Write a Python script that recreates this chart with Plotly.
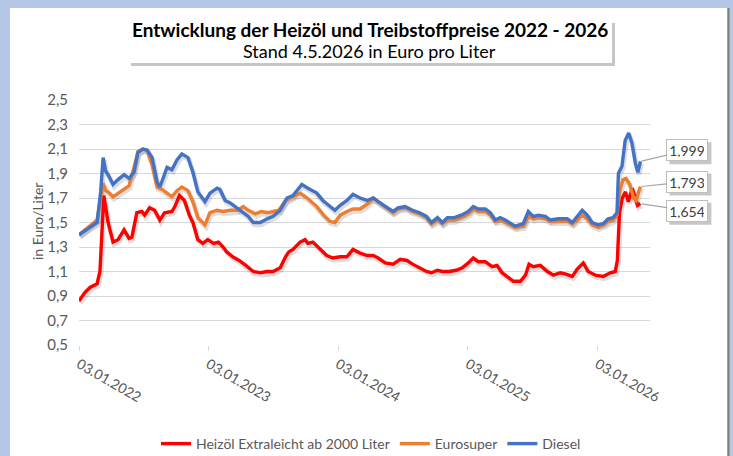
import pandas as pd
import plotly.graph_objects as go

# ---------------- data ----------------
diesel_dates = ["2022-01-03","2022-01-20","2022-02-03","2022-02-23","2022-03-05","2022-03-12","2022-03-19","2022-03-26",
    "2022-04-09","2022-04-23","2022-05-10","2022-05-24","2022-06-07","2022-06-18","2022-07-02","2022-07-14","2022-07-28",
    "2022-08-11","2022-08-19","2022-09-08","2022-09-22","2022-10-06","2022-10-20","2022-11-06","2022-11-20","2022-12-04",
    "2022-12-24","2023-01-07","2023-01-27","2023-02-04","2023-02-19","2023-03-05","2023-03-25","2023-04-11","2023-04-25",
    "2023-05-09","2023-05-29","2023-06-17","2023-07-04","2023-07-24","2023-08-12","2023-08-29","2023-09-23","2023-10-10",
    "2023-11-04","2023-11-21","2023-12-11","2023-12-25","2024-01-09","2024-01-28","2024-02-14","2024-03-05","2024-03-25",
    "2024-04-11","2024-04-25","2024-05-15","2024-06-06","2024-06-20","2024-07-10","2024-07-31","2024-08-20","2024-09-08",
    "2024-09-22","2024-10-09","2024-10-23","2024-11-06","2024-11-26","2024-12-15","2025-01-04","2025-01-18","2025-02-01",
    "2025-02-21","2025-03-07","2025-03-21","2025-04-04","2025-04-18","2025-05-16","2025-06-08","2025-06-22","2025-07-06",
    "2025-07-20","2025-08-09","2025-08-23","2025-09-15","2025-10-10","2025-10-24","2025-11-07","2025-11-21","2025-12-05",
    "2025-12-19","2026-01-05","2026-01-19","2026-02-02","2026-02-16","2026-02-27","2026-03-03","2026-03-13","2026-03-22",
    "2026-04-01","2026-04-10","2026-04-20","2026-04-27","2026-05-04"]
diesel = [1.40,1.43,1.46,1.50,1.75,2.03,1.92,1.89,
    1.81,1.85,1.89,1.86,1.91,2.07,2.10,2.09,2.03,
    1.83,1.79,1.95,1.93,2.01,2.06,2.03,1.91,1.75,
    1.67,1.74,1.78,1.77,1.68,1.66,1.62,1.58,1.55,
    1.50,1.50,1.53,1.55,1.60,1.70,1.72,1.81,1.78,
    1.74,1.68,1.63,1.60,1.64,1.68,1.73,1.70,1.68,
    1.70,1.67,1.63,1.59,1.62,1.63,1.60,1.58,1.55,
    1.50,1.54,1.50,1.54,1.54,1.56,1.59,1.63,1.61,
    1.61,1.58,1.52,1.54,1.52,1.47,1.49,1.59,1.55,
    1.56,1.55,1.52,1.53,1.53,1.50,1.55,1.60,1.56,
    1.50,1.48,1.49,1.53,1.54,1.58,1.90,1.96,2.17,
    2.23,2.15,1.98,1.91,1.999]

super_dates = ["2022-01-03","2022-01-20","2022-02-03","2022-02-23","2022-03-05","2022-03-12","2022-03-19","2022-03-26",
    "2022-04-09","2022-04-23","2022-05-10","2022-05-24","2022-06-07","2022-06-18","2022-07-02","2022-07-14","2022-07-28",
    "2022-08-11","2022-08-25","2022-09-22","2022-10-06","2022-10-20","2022-11-06","2022-11-20","2022-12-04","2022-12-24",
    "2023-01-07","2023-01-27","2023-02-13","2023-03-05","2023-03-25","2023-04-11","2023-04-25","2023-05-15","2023-06-01",
    "2023-06-20","2023-07-20","2023-08-08","2023-08-27","2023-09-18","2023-10-08","2023-11-04","2023-11-23","2023-12-11",
    "2023-12-25","2024-01-09","2024-01-28","2024-02-14","2024-03-05","2024-03-25","2024-04-11","2024-04-25","2024-05-15",
    "2024-06-06","2024-06-20","2024-07-10","2024-07-31","2024-08-20","2024-09-08","2024-09-22","2024-10-09","2024-10-23",
    "2024-11-06","2024-11-26","2024-12-15","2025-01-04","2025-01-18","2025-02-01","2025-02-21","2025-03-07","2025-03-21",
    "2025-04-04","2025-04-18","2025-05-16","2025-06-08","2025-06-22","2025-07-06","2025-07-20","2025-08-09","2025-08-23",
    "2025-09-15","2025-10-10","2025-10-24","2025-11-07","2025-11-21","2025-12-05","2025-12-19","2026-01-05","2026-01-19",
    "2026-02-02","2026-02-16","2026-02-27","2026-03-06","2026-03-16","2026-03-24","2026-04-04","2026-04-15","2026-04-22",
    "2026-04-29","2026-05-04"]
eurosuper = [1.40,1.44,1.47,1.52,1.70,1.82,1.76,1.75,
    1.71,1.74,1.77,1.80,1.95,2.08,2.10,2.09,1.97,
    1.79,1.77,1.71,1.76,1.79,1.76,1.67,1.54,1.48,
    1.58,1.60,1.59,1.60,1.60,1.63,1.60,1.57,1.59,
    1.58,1.60,1.68,1.71,1.74,1.70,1.63,1.56,1.51,
    1.50,1.56,1.59,1.61,1.61,1.65,1.70,1.67,1.62,
    1.58,1.61,1.62,1.59,1.57,1.54,1.49,1.52,1.49,
    1.52,1.52,1.54,1.57,1.61,1.59,1.59,1.56,1.51,
    1.52,1.50,1.46,1.47,1.55,1.53,1.54,1.53,1.51,
    1.51,1.51,1.49,1.52,1.56,1.53,1.48,1.46,1.48,
    1.51,1.52,1.56,1.75,1.85,1.86,1.81,1.70,1.68,
    1.75,1.793]

heizoel_dates = ["2022-01-03","2022-01-20","2022-02-03","2022-02-23","2022-03-03","2022-03-14","2022-03-26","2022-04-09",
    "2022-04-23","2022-05-10","2022-05-24","2022-06-01","2022-06-15","2022-06-29","2022-07-07","2022-07-21","2022-08-04",
    "2022-08-19","2022-09-01","2022-09-22","2022-09-30","2022-10-13","2022-10-27","2022-11-10","2022-11-20","2022-12-04",
    "2022-12-18","2023-01-01","2023-01-17","2023-01-31","2023-02-13","2023-02-23","2023-03-12","2023-03-30","2023-04-18",
    "2023-05-09","2023-05-29","2023-06-17","2023-07-04","2023-07-24","2023-08-08","2023-08-17","2023-08-29","2023-09-18",
    "2023-10-02","2023-10-10","2023-10-24","2023-11-13","2023-12-02","2023-12-19","2024-01-09","2024-01-28","2024-02-14",
    "2024-03-05","2024-03-25","2024-04-11","2024-04-25","2024-05-15","2024-06-06","2024-06-26","2024-07-15","2024-07-31",
    "2024-08-20","2024-09-08","2024-09-22","2024-10-09","2024-10-23","2024-11-11","2024-12-01","2024-12-18","2025-01-04",
    "2025-01-18","2025-02-01","2025-02-21","2025-03-12","2025-03-26","2025-04-09","2025-04-24","2025-05-11","2025-05-31",
    "2025-06-14","2025-06-24","2025-07-06","2025-07-26","2025-08-15","2025-09-01","2025-09-20","2025-10-04","2025-10-24",
    "2025-11-07","2025-11-24","2025-12-08","2025-12-28","2026-01-19","2026-02-08","2026-02-22","2026-02-28","2026-03-06",
    "2026-03-14","2026-03-23","2026-03-31","2026-04-11","2026-04-20","2026-04-26","2026-05-04"]
heizoel = [0.86,0.93,0.97,1.00,1.10,1.72,1.50,1.34,
    1.36,1.44,1.37,1.38,1.58,1.59,1.56,1.62,1.60,
    1.52,1.58,1.59,1.63,1.72,1.68,1.56,1.50,1.36,
    1.33,1.36,1.33,1.34,1.30,1.26,1.22,1.19,1.15,
    1.10,1.09,1.10,1.10,1.13,1.22,1.26,1.28,1.34,
    1.36,1.33,1.34,1.28,1.23,1.21,1.22,1.22,1.28,
    1.25,1.23,1.23,1.21,1.17,1.16,1.20,1.19,1.16,
    1.13,1.10,1.09,1.11,1.10,1.10,1.11,1.13,1.17,
    1.21,1.18,1.18,1.14,1.15,1.09,1.06,1.02,1.02,
    1.07,1.16,1.14,1.15,1.10,1.07,1.09,1.08,1.06,
    1.12,1.17,1.10,1.07,1.06,1.09,1.10,1.19,1.58,
    1.70,1.75,1.67,1.78,1.70,1.64,1.654]

tick_dates = ["2022-01-03", "2023-01-03", "2024-01-03", "2025-01-03", "2026-01-03"]
tick_labels = ["03.01.2022", "03.01.2023", "03.01.2024", "03.01.2025", "03.01.2026"]
y_ticks = [0.5, 0.7, 0.9, 1.1, 1.3, 1.5, 1.7, 1.9, 2.1, 2.3, 2.5]

series = [
    ("Heizöl Extraleicht ab 2000 Liter", heizoel_dates, heizoel, "#ff0000"),
    ("Eurosuper", super_dates, eurosuper, "#ed7d31"),
    ("Diesel", diesel_dates, diesel, "#4472c4"),
]

# ---------------- layout helpers ----------------
W, H = 733, 456
L, R, T, B = 79, 650, 100, 345
X_RANGE = ["2022-01-03", "2026-05-31"]
Y_RANGE = [0.5, 2.5]
def px_x(p):
    return (p - L) / (R - L)
def px_y(p):
    return (B - p) / (B - T)
def date_frac(d):
    a, b = pd.to_datetime(X_RANGE[0]), pd.to_datetime(X_RANGE[1])
    return (pd.to_datetime(d) - a) / (b - a)
def val_frac(v):
    return (v - Y_RANGE[0]) / (Y_RANGE[1] - Y_RANGE[0])

FONT = "Lato"
fig = go.Figure()

# soft drop shadows under the lines
for name, d, v, c in series:
    dd = pd.to_datetime(d) + pd.Timedelta(days=3)
    fig.add_trace(go.Scatter(x=dd, y=[val - 0.018 for val in v], mode="lines",
                             line=dict(color="rgba(0,0,0,0.13)", width=5),
                             showlegend=False, hoverinfo="skip"))
for name, d, v, c in series:
    fig.add_trace(go.Scatter(x=pd.to_datetime(d), y=v, mode="lines", name=name,
                             line=dict(color=c, width=3.4)))

shapes = [
    # white chart area
    dict(type="rect", xref="paper", yref="paper", layer="below",
         x0=px_x(10), x1=px_x(727), y0=px_y(8), y1=px_y(460),
         fillcolor="white", line=dict(width=0)),
    dict(type="line", xref="paper", yref="paper", layer="below",
         x0=px_x(728.5), x1=px_x(728.5), y0=px_y(8), y1=px_y(460),
         line=dict(color="#7f7f7f", width=2)),
    # title box shadow + box
    dict(type="rect", xref="paper", yref="paper", layer="below",
         x0=px_x(131), x1=px_x(615), y0=px_y(23), y1=px_y(66),
         fillcolor="rgba(0,0,0,0.22)", line=dict(width=0)),
    dict(type="rect", xref="paper", yref="paper", layer="below",
         x0=px_x(128), x1=px_x(612), y0=px_y(20), y1=px_y(63),
         fillcolor="white", line=dict(width=0)),
]

annotations = [
    dict(xref="paper", yref="paper", x=px_x(370), y=px_y(30), xanchor="center", yanchor="middle",
         showarrow=False, text="<b>Entwicklung der Heizöl und Treibstoffpreise 2022 - 2026</b>",
         font=dict(family=FONT, size=19, color="#000000")),
    dict(xref="paper", yref="paper", x=px_x(369), y=px_y(51), xanchor="center", yanchor="middle",
         showarrow=False, text="Stand 4.5.2026 in Euro pro Liter",
         font=dict(family=FONT, size=18, color="#000000")),
    dict(xref="paper", yref="paper", x=px_x(37), y=px_y(222), xanchor="center", yanchor="middle",
         showarrow=False, text="in Euro/Liter", textangle=-90,
         font=dict(family=FONT, size=14, color="#595959")),
]

# end-value labels (box centre offsets in px from the last point)
offsets = [(47, 7), (47, -5), (47, -11)]
BW, BH = 42, 22
for (name, d, v, c), (ax, ay) in zip(series, offsets):
    label = f"{v[-1]:.3f}".replace(".", ",")
    # shadow box (paper refs so it is not clipped by the plot area)
    xa, ya = date_frac(d[-1]), val_frac(v[-1])
    shapes.append(dict(type="rect", xref="paper", yref="paper", xsizemode="pixel", ysizemode="pixel",
                       xanchor=xa, yanchor=ya,
                       x0=ax - BW / 2 + 3, x1=ax + BW / 2 + 3,
                       y0=-ay - BH / 2 - 3, y1=-ay + BH / 2 - 3,
                       fillcolor="rgba(0,0,0,0.22)", line=dict(width=0), layer="above"))
    annotations.append(dict(x=d[-1], y=v[-1], xref="x", yref="y",
                            showarrow=True, ax=ax, ay=ay, arrowhead=0, arrowwidth=1.2,
                            arrowcolor="#a6a6a6", standoff=1, width=BW - 8, height=BH - 8,
                            text=label, font=dict(family=FONT, size=14, color="#404040"),
                            bgcolor="white", bordercolor="#bfbfbf", borderwidth=1, borderpad=3))

fig.update_layout(
    width=W, height=H,
    margin=dict(l=L, r=W - R, t=T, b=H - B, autoexpand=False),
    paper_bgcolor="#b4c7e7", plot_bgcolor="rgba(0,0,0,0)",
    separators=",.",
    font=dict(family=FONT, color="#595959"),
    shapes=shapes, annotations=annotations,
    legend=dict(orientation="h", x=px_x(371), xanchor="center", y=px_y(444), yanchor="middle",
                font=dict(family=FONT, size=14, color="#595959"), bgcolor="rgba(0,0,0,0)",
                itemwidth=30, tracegroupgap=0),
    xaxis=dict(type="date", range=X_RANGE, tickvals=pd.to_datetime(tick_dates),
               ticktext=tick_labels, tickangle=30, showgrid=False, zeroline=False,
               showline=False, ticks="outside", ticklen=5, tickcolor="#d9d9d9",
               tickfont=dict(family=FONT, size=14, color="#595959")),
    yaxis=dict(range=Y_RANGE, tickvals=y_ticks, tickformat=".1f", showgrid=True,
               gridcolor="#d9d9d9", gridwidth=1, zeroline=False, showline=False,
               ticklabelstandoff=10,
               tickfont=dict(family=FONT, size=15, color="#595959")),
)

fig.write_html("out.html", config={"displayModeBar": False},
               post_script="document.body.style.margin='0';document.body.style.padding='0';"
                           "document.body.style.overflow='hidden';")
